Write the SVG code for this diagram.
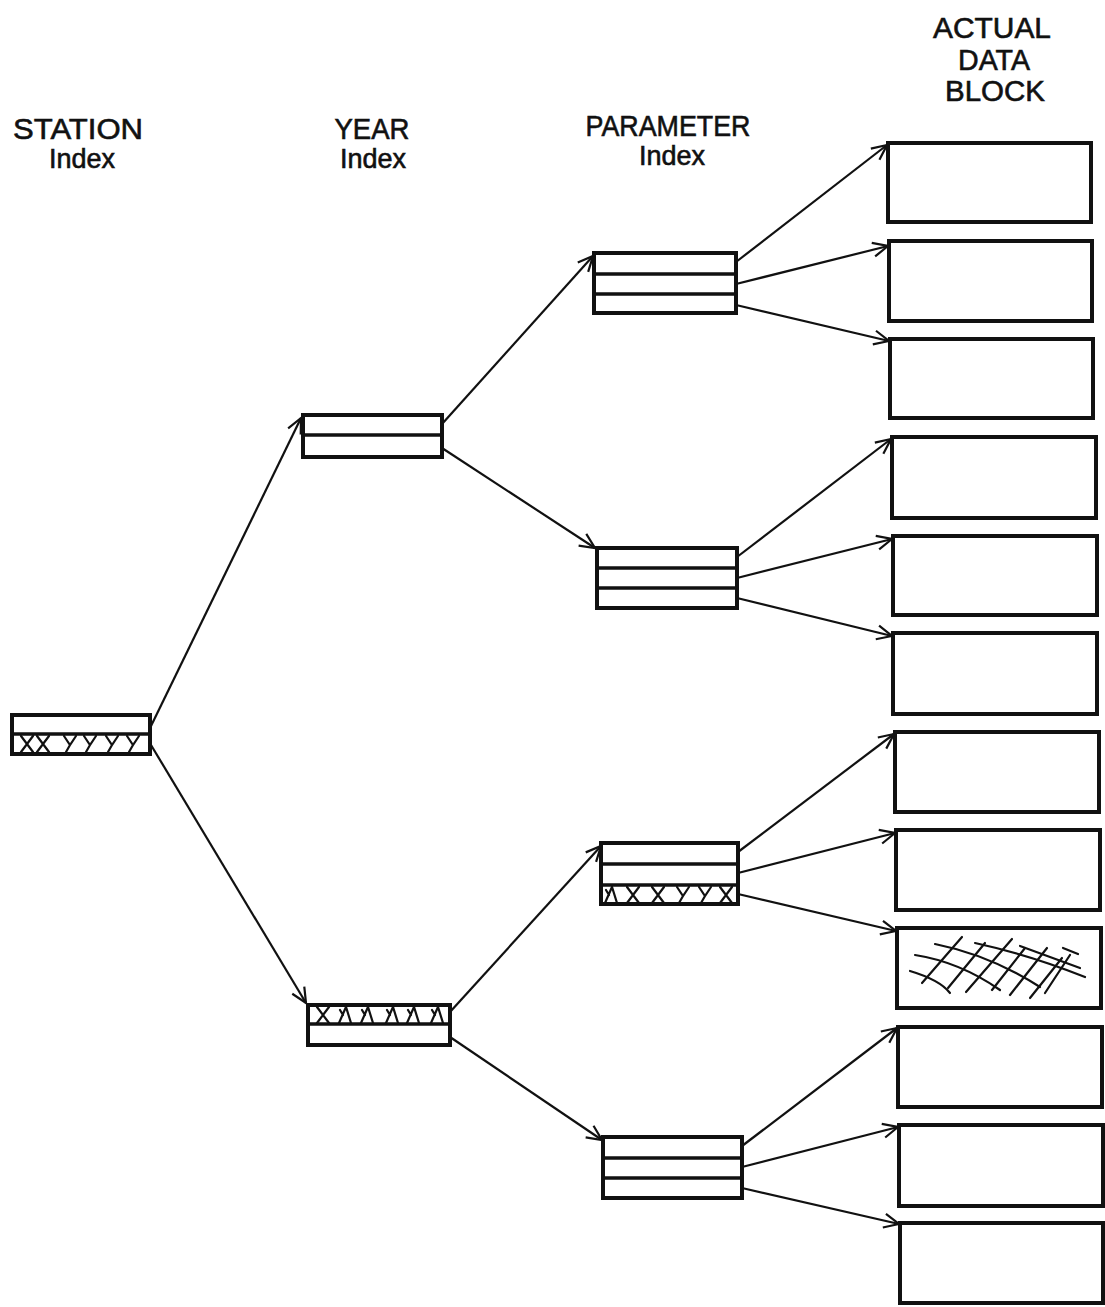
<svg xmlns="http://www.w3.org/2000/svg" width="1105" height="1307" viewBox="0 0 1105 1307">
<defs>
<style>
.box{fill:#fff;stroke:#111;stroke-width:4}
.div{stroke:#111;stroke-width:3.5;fill:none}
.conn{stroke:#111;stroke-width:2.2;fill:none;marker-end:url(#arr)}
.hat{stroke:#111;stroke-width:2.2;fill:none;stroke-linecap:round}
.lbl{font-family:"Liberation Sans",Arial,sans-serif;fill:#111;stroke:#111;stroke-width:0.6;text-anchor:middle}
.cap{font-size:29px}
.sub{font-size:27px}
</style>
<marker id="arr" markerUnits="userSpaceOnUse" markerWidth="20" markerHeight="18" refX="17" refY="9" orient="auto">
<path d="M2,2 L17,9 L2,16" fill="none" stroke="#111" stroke-width="2.2"/>
</marker>
<path id="xm" d="M-6,-8 L6,8 M6,-8 L-6,8"/>
<path id="ym" d="M-6,-8 L0,1 L6,-8 M0,1 L-4,8"/>
<path id="lm" d="M-6,8 L1,-8 L6,8 M-2,0 L-5,-5"/>
</defs>
<rect width="1105" height="1307" fill="#fff"/>

<g id="titles">
<text class="lbl cap" x="78" y="139" textLength="130" lengthAdjust="spacingAndGlyphs">STATION</text>
<text class="lbl sub" x="82" y="168">Index</text>
<text class="lbl cap" x="372" y="139" textLength="75" lengthAdjust="spacingAndGlyphs">YEAR</text>
<text class="lbl sub" x="373" y="168">Index</text>
<text class="lbl cap" x="668" y="136" textLength="165" lengthAdjust="spacingAndGlyphs">PARAMETER</text>
<text class="lbl sub" x="672" y="165">Index</text>
<text class="lbl cap" x="992" y="38" textLength="118" lengthAdjust="spacingAndGlyphs">ACTUAL</text>
<text class="lbl cap" x="994" y="70" textLength="72" lengthAdjust="spacingAndGlyphs">DATA</text>
<text class="lbl cap" x="995" y="101" textLength="100" lengthAdjust="spacingAndGlyphs">BLOCK</text>
</g>

<g id="connectors">
<line class="conn" x1="151" y1="726" x2="301" y2="418"/>
<line class="conn" x1="151" y1="745" x2="306" y2="1003"/>
<line class="conn" x1="442" y1="424" x2="593" y2="256"/>
<line class="conn" x1="442" y1="448" x2="595" y2="548"/>
<line class="conn" x1="450" y1="1012" x2="601" y2="846"/>
<line class="conn" x1="450" y1="1037" x2="602" y2="1140"/>
<line class="conn" x1="736" y1="262" x2="887" y2="145"/>
<line class="conn" x1="736" y1="284" x2="888" y2="246"/>
<line class="conn" x1="736" y1="305" x2="889" y2="341"/>
<line class="conn" x1="737" y1="557" x2="891" y2="439"/>
<line class="conn" x1="737" y1="578" x2="892" y2="539"/>
<line class="conn" x1="737" y1="598" x2="892" y2="636"/>
<line class="conn" x1="738" y1="852" x2="894" y2="734"/>
<line class="conn" x1="738" y1="873" x2="895" y2="833"/>
<line class="conn" x1="738" y1="894" x2="896" y2="931"/>
<line class="conn" x1="742" y1="1146" x2="897" y2="1028"/>
<line class="conn" x1="742" y1="1167" x2="898" y2="1127"/>
<line class="conn" x1="742" y1="1188" x2="899" y2="1224"/>
</g>

<g id="station">
<rect class="box" x="12" y="715" width="138" height="39"/>
<line class="div" x1="12" y1="734" x2="150" y2="734"/>
<g class="hat">
<use href="#xm" x="27" y="744"/><use href="#xm" x="43" y="744"/>
<use href="#ym" x="70" y="744"/><use href="#ym" x="90" y="744"/>
<use href="#ym" x="112" y="744"/><use href="#ym" x="133" y="744"/>
</g>
</g>

<g id="year1">
<rect class="box" x="303" y="415" width="139" height="42"/>
<line class="div" x1="303" y1="435" x2="442" y2="435"/>
</g>
<g id="year2">
<rect class="box" x="308" y="1005" width="142" height="40"/>
<line class="div" x1="308" y1="1024" x2="450" y2="1024"/>
<g class="hat">
<use href="#xm" x="323" y="1015"/><use href="#lm" x="345" y="1015"/>
<use href="#lm" x="367" y="1015"/><use href="#lm" x="392" y="1015"/>
<use href="#lm" x="413" y="1015"/><use href="#lm" x="437" y="1015"/>
</g>
</g>

<g id="param1">
<rect class="box" x="594" y="253" width="142" height="60"/>
<line class="div" x1="594" y1="274" x2="736" y2="274"/>
<line class="div" x1="594" y1="294" x2="736" y2="294"/>
</g>
<g id="param2">
<rect class="box" x="597" y="548" width="140" height="60"/>
<line class="div" x1="597" y1="568" x2="737" y2="568"/>
<line class="div" x1="597" y1="588" x2="737" y2="588"/>
</g>
<g id="param3">
<rect class="box" x="601" y="843" width="137" height="61"/>
<line class="div" x1="601" y1="864" x2="738" y2="864"/>
<line class="div" x1="601" y1="885" x2="738" y2="885"/>
<g class="hat">
<use href="#lm" x="611" y="895"/><use href="#xm" x="633" y="895"/>
<use href="#xm" x="658" y="895"/><use href="#ym" x="683" y="895"/>
<use href="#ym" x="705" y="895"/><use href="#xm" x="726" y="895"/>
</g>
</g>
<g id="param4">
<rect class="box" x="603" y="1137" width="139" height="61"/>
<line class="div" x1="603" y1="1158" x2="742" y2="1158"/>
<line class="div" x1="603" y1="1178" x2="742" y2="1178"/>
</g>

<g id="data1"><rect class="box" x="888" y="143" width="203" height="79"/></g>
<g id="data2"><rect class="box" x="889" y="241" width="203" height="80"/></g>
<g id="data3"><rect class="box" x="890" y="339" width="203" height="79"/></g>
<g id="data4"><rect class="box" x="892" y="437" width="204" height="81"/></g>
<g id="data5"><rect class="box" x="893" y="536" width="204" height="79"/></g>
<g id="data6"><rect class="box" x="893" y="633" width="204" height="81"/></g>
<g id="data7"><rect class="box" x="895" y="732" width="204" height="80"/></g>
<g id="data8"><rect class="box" x="896" y="830" width="204" height="80"/></g>
<g id="data9"><rect class="box" x="897" y="928" width="204" height="80"/>
<g class="hat">
<path d="M922,983 L962,937"/>
<path d="M948,988 L985,943"/>
<path d="M966,992 L1012,939"/>
<path d="M992,990 L1025,948"/>
<path d="M1010,995 L1047,948"/>
<path d="M1030,998 L1062,958"/>
<path d="M1045,993 L1070,955"/>
<path d="M910,971 Q940,980 950,993"/>
<path d="M915,955 Q960,962 1000,990"/>
<path d="M935,944 Q990,955 1040,987"/>
<path d="M975,943 Q1030,955 1085,977"/>
<path d="M1020,946 L1080,968"/>
<path d="M1063,948 L1078,954"/>
</g>
</g>
<g id="data10"><rect class="box" x="898" y="1027" width="204" height="80"/></g>
<g id="data11"><rect class="box" x="899" y="1125" width="204" height="81"/></g>
<g id="data12"><rect class="box" x="900" y="1223" width="203" height="80"/></g>
</svg>
